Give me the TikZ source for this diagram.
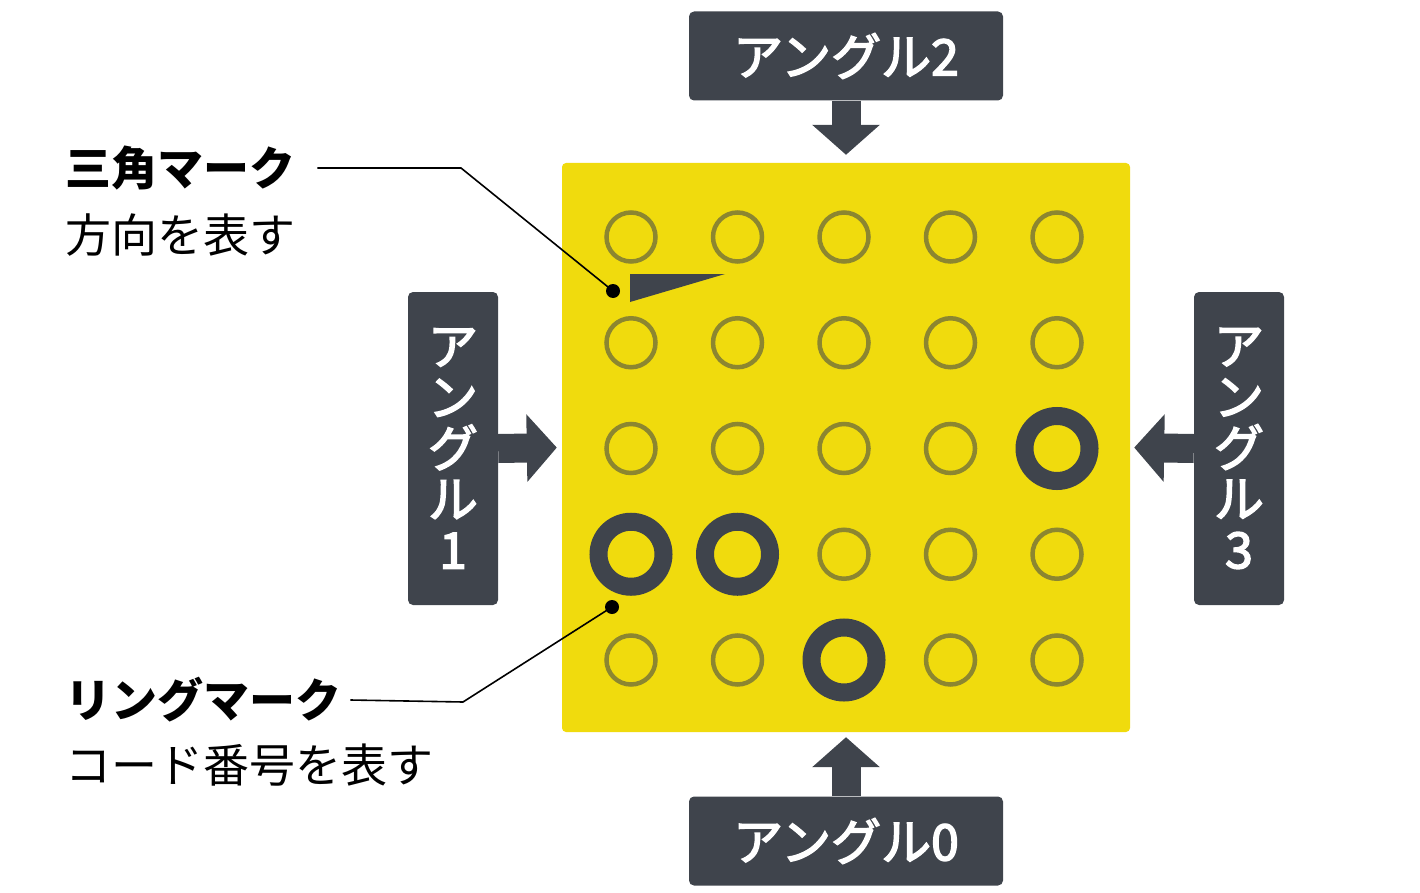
\documentclass[tikz,border=0pt]{standalone}
\usepackage{fontspec}
\setmainfont{Noto Sans CJK JP}
\newfontfamily\boxfont{Noto Sans CJK JP}[FakeBold = 3]
\usetikzlibrary{arrows.meta,positioning,calc}

\definecolor{markdark}{HTML}{3F444C}
\definecolor{boardyellow}{HTML}{F0DB0D}
\definecolor{holeolive}{HTML}{8C8630}

\begin{document}
\begin{tikzpicture}[x = 1pt, y = -1pt,
  anglebox/.style = {fill = markdark, text = white, rounded corners = 5pt, inner sep = 0pt, font = \boxfont\fontsize{50}{51}\selectfont},
  blockarrow/.style = {markdark, line width = 29pt, -{Triangle[width = 66pt, length = 30pt]}},
  hole/.style = {circle, draw = holeolive, line width = 4.5pt, minimum size = 49pt, inner sep = 0pt},
  ring/.style = {circle, draw = markdark, fill = boardyellow, line width = 18pt, minimum size = 65pt, inner sep = 0pt},
  title/.style = {anchor = west, inner sep = 0pt, font = \bfseries\fontsize{46}{50}\selectfont},
  note/.style = {anchor = west, inner sep = 0pt, font = \fontsize{46}{50}\selectfont}]
\useasboundingbox (0, 0) rectangle (1420, 893);

% board with the holes
\node[fill = boardyellow, rounded corners = 4pt, minimum width = 568pt, minimum height = 569pt, inner sep = 0pt] (board) at (846, 447.5) {};
\foreach \col in {0,...,4}
  \foreach \row in {0,...,4}
    \node[hole] (h\col\row) at (631 + 106.5*\col, 237 + 105.75*\row) {};
\foreach \p in {h03, h13, h24, h42}
  \node[ring] (ring-\p) at (\p) {};
\fill[markdark] (630, 274) -- (725, 274) -- (630, 302) -- cycle;

% angle labels
\node[anglebox, minimum width = 314pt, minimum height = 89pt] (a2) at (846, 56) {アングル2};
\node[anglebox, minimum width = 314pt, minimum height = 89pt] (a0) at (846, 841) {アングル0};
\node[anglebox, minimum width = 90pt, minimum height = 313pt, align = center] (a1) at (453, 448.5) {ア\\ン\\グ\\ル\\1};
\node[anglebox, minimum width = 90pt, minimum height = 313pt, align = center] (a3) at (1239, 448.5) {ア\\ン\\グ\\ル\\3};
\draw[blockarrow, shorten > = 8pt] (a2.south) -- (board.north);
\draw[blockarrow, shorten > = 5pt] (a0.north) -- (board.south);
\draw[blockarrow, shorten > = 5pt] (a1.east) -- (board.west);
\draw[blockarrow, shorten > = 4pt] (a3.west) -- (board.east);

% callouts
\node[title] (tri title) at (65, 168) {三角マーク};
\node[note] (tri note) at (65, 235) {方向を表す};
\coordinate (tri dot) at (613, 291);
\coordinate (tri bend) at (461, 168);
\fill (tri dot) circle (7pt);
\draw[line width = 1.6pt] ([xshift = 22pt]tri title.east) -- (tri bend) -- (tri dot);

\node[title] (ring title) at (65, 700) {リングマーク};
\node[note] (ring note) at (65, 765) {コード番号を表す};
\coordinate (ring dot) at (612, 607);
\coordinate (ring bend) at (463, 702);
\fill (ring dot) circle (7pt);
\draw[line width = 1.6pt] ([xshift = 9pt]ring title.east) -- (ring bend) -- (ring dot);
\end{tikzpicture}
\end{document}
